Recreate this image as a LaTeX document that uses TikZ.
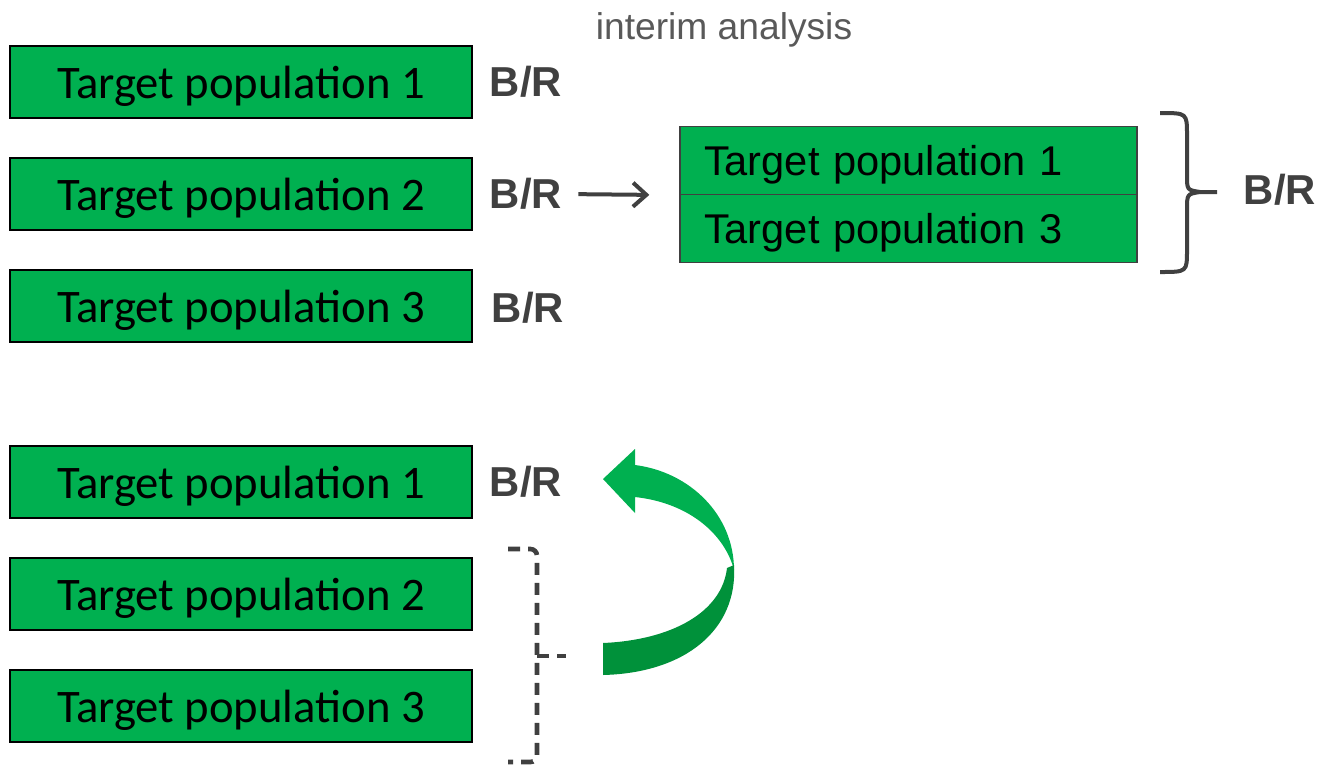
\documentclass[tikz,border=0pt]{standalone}
\usepackage{fontspec}
\setmainfont{Liberation Sans}
\newfontfamily\calibri{Carlito}
\usetikzlibrary{arrows.meta}
\definecolor{boxgreen}{HTML}{00B050}
\definecolor{darkgreen}{HTML}{00913A}
\definecolor{labelgray}{HTML}{404040}
\definecolor{notegray}{HTML}{595959}

\begin{document}
\begin{tikzpicture}[x=0.75pt, y=-0.75pt]
	\tikzstyle{every node}=[inner sep=0pt, align=center]
	\tikzstyle{pop}=[draw=black, line width=1.5pt, fill=boxgreen, minimum width=346.5pt, minimum height=54pt, text height=26pt, text depth=2pt, font=\calibri\fontsize{35}{40}\selectfont]
	\tikzstyle{sub}=[draw=labelgray, line width=1pt, fill=boxgreen, minimum width=342.75pt, minimum height=51pt, text width=306.75pt, text height=25pt, text depth=3pt, align=left, font=\fontsize{31.2}{36}\selectfont]
	\tikzstyle{br}=[text=labelgray, font=\bfseries\fontsize{31.4}{36}\selectfont]
	\useasboundingbox (0,0) rectangle (1318,765);
	% before the interim analysis
	\node[pop] (A1) at (241, 82) {Target population 1};
	\node[pop] (A2) at (241, 194) {Target population 2};
	\node[pop] (A3) at (241, 306) {Target population 3};
	\node[br] (B1) at (526, 82) {B/R};
	\node[br] (B2) at (526, 194) {B/R};
	\node[br] (B3) at (528, 308) {B/R};
	\node[text=notegray, font=\fontsize{27.9}{32}\selectfont] (I) at (724, 30) {interim analysis};
	\node[sub] (R1) at (908.5, 160.5) {Target population 1};
	\node[sub] (R3) at (908.5, 228.5) {Target population 3};
	\node[br] (B4) at (1280, 190) {B/R};
	\draw[-{Straight Barb[length=10pt, width=18pt]}, labelgray, line width=3pt, shorten <=12pt, shorten >=22.5pt] (B2.east) -- (R1.south west);
	\draw[labelgray, line width=3pt] (1160, 113) .. controls (1187, 113) .. (1187, 135) -- (1187, 175) .. controls (1187, 190) .. (1200, 192) -- (1217, 192);
	\draw[labelgray, line width=3pt] (1160, 272) .. controls (1187, 272) .. (1187, 250) -- (1187, 210) .. controls (1187, 194) .. (1200, 192);
	% after the interim analysis
	\node[pop] (C1) at (241, 482) {Target population 1};
	\node[pop] (C2) at (241, 594) {Target population 2};
	\node[pop] (C3) at (241, 706) {Target population 3};
	\node[br] (B5) at (526, 482) {B/R};
	\draw[labelgray, line width=3.5pt, dash pattern=on 9pt off 6pt, rounded corners=5pt] (508, 549) -- (537, 549) -- (537, 762) -- (508, 762);
	\draw[labelgray, line width=3.5pt, dash pattern=on 9pt off 6pt] (537, 656) -- (566, 656);
	\fill[boxgreen] (635, 465) .. controls (690, 472) and (734, 515) .. (734, 570) .. controls (725, 535) and (690, 503) .. (635, 497) -- (635, 513) -- (603, 479) -- (635, 449) -- cycle;
	\fill[darkgreen] (734, 565) .. controls (738, 630) and (685, 673) .. (603, 675) -- (603, 643) .. controls (672, 640) and (722, 612) .. (727, 568) -- cycle;
\end{tikzpicture}
\end{document}
